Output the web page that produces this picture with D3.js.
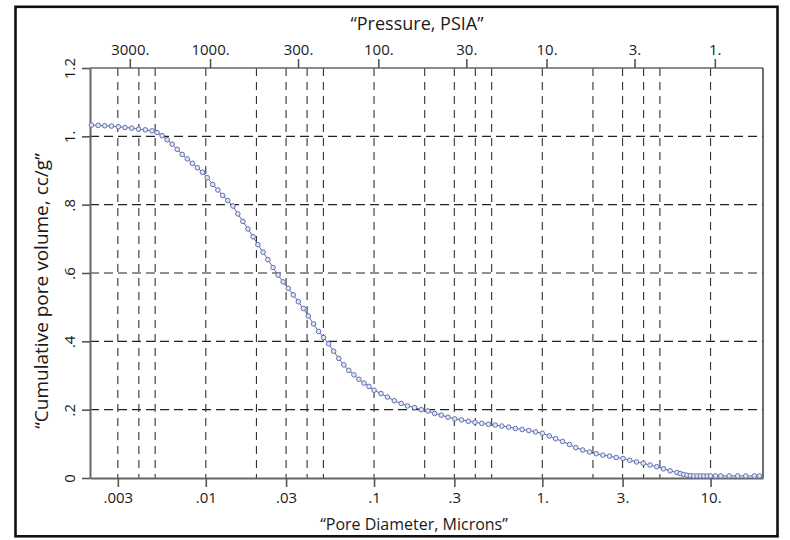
<!DOCTYPE html>
<html>
<head>
<meta charset="utf-8">
<script src="https://cdn.jsdelivr.net/npm/d3@7"></script>
<style>
  html, body { margin: 0; padding: 0; background: #fff; }
  svg { display: block; }
  text { font-family: "Open Sans", "Noto Sans", sans-serif; fill: #1a1a1a; }
</style>
</head>
<body>
<svg id="chart" width="790" height="540"></svg>
<script>
// Mercury intrusion curve: pore diameter (microns) vs cumulative pore volume (cc/g)
const diameters = [
  0.00209, 0.00229, 0.00251, 0.00275, 0.00302, 0.00331, 0.00363, 0.00398, 0.00437, 0.00479,
  0.00513, 0.00550, 0.00589, 0.00631, 0.00676, 0.00724, 0.00776, 0.00832, 0.00891, 0.00955,
  0.0102, 0.0110, 0.0118, 0.0126, 0.0135, 0.0145, 0.0155, 0.0166, 0.0178, 0.0191,
  0.0204, 0.0219, 0.0234, 0.0251, 0.0269, 0.0288, 0.0309, 0.0331, 0.0355, 0.0380,
  0.0407, 0.0437, 0.0468, 0.0501, 0.0537, 0.0575, 0.0617, 0.0661, 0.0708, 0.0759,
  0.0813, 0.0871, 0.0933, 0.100,
  0.110, 0.120, 0.132, 0.145, 0.158, 0.174, 0.191, 0.209, 0.229, 0.251,
  0.275, 0.302, 0.331, 0.363, 0.398, 0.437, 0.479, 0.525, 0.575, 0.631,
  0.692, 0.759, 0.832, 0.912, 1.00, 1.10, 1.20, 1.32, 1.45, 1.58,
  1.74, 1.91, 2.09, 2.29, 2.51, 2.75, 3.02, 3.31, 3.63, 3.98,
  4.37, 4.79, 5.25, 5.75, 6.31,
  6.61, 6.92, 7.24, 7.59, 7.94, 8.32, 8.71, 9.12, 9.55, 10.0,
  10.7, 11.5, 12.9, 14.5, 16.2, 18.2, 19.5
];
const volumes = [
  1.033, 1.032, 1.031, 1.030, 1.028, 1.026, 1.024, 1.021, 1.019, 1.016,
  1.011, 1.002, 0.990, 0.977, 0.962, 0.947, 0.934, 0.921, 0.908, 0.895,
  0.879, 0.859, 0.843, 0.827, 0.812, 0.796, 0.773, 0.751, 0.729, 0.706,
  0.683, 0.661, 0.639, 0.616, 0.594, 0.574, 0.555, 0.536, 0.516, 0.496,
  0.474, 0.451, 0.429, 0.411, 0.393, 0.371, 0.350, 0.331, 0.315, 0.302,
  0.289, 0.278, 0.268, 0.257,
  0.247, 0.237, 0.226, 0.218, 0.211, 0.206, 0.200, 0.196, 0.189, 0.184,
  0.178, 0.173, 0.170, 0.166, 0.163, 0.160, 0.157, 0.155, 0.152, 0.149,
  0.145, 0.142, 0.139, 0.135, 0.131, 0.123, 0.115, 0.107, 0.098, 0.089,
  0.082, 0.076, 0.071, 0.067, 0.064, 0.060, 0.057, 0.052, 0.047, 0.043,
  0.038, 0.033, 0.027, 0.021, 0.016,
  0.013, 0.010, 0.008, 0.007, 0.006, 0.006, 0.006, 0.006, 0.006, 0.006,
  0.006, 0.006, 0.006, 0.006, 0.006, 0.006, 0.006
];

// Axis ticks and labels
const diameterTicks = [0.003, 0.01, 0.03, 0.1, 0.3, 1, 3, 10];
const diameterLabels = [".003", ".01", ".03", ".1", ".3", "1.", "3.", "10."];
const diameterGrid = [0.003, 0.004, 0.005, 0.01, 0.02, 0.03, 0.04, 0.05,
                      0.1, 0.2, 0.3, 0.4, 0.5, 1, 2, 3, 4, 5, 10];
const pressureTicks = [3000, 1000, 300, 100, 30, 10, 3, 1];
const pressureLabels = ["3000.", "1000.", "300.", "100.", "30.", "10.", "3.", "1."];
const volumeTicks = [0, 0.2, 0.4, 0.6, 0.8, 1.0, 1.2];
const volumeLabels = ["0", ".2", ".4", ".6", ".8", "1.", "1.2"];
const volumeGrid = [0.2, 0.4, 0.6, 0.8, 1.0];

// Washburn constant linking pressure (psia) and diameter (microns)
const washburnK = 10.6;

const svg = d3.select("#chart");
const plot = { left: 90, right: 763, top: 68, bottom: 478 };

const x = d3.scaleLog().domain([0.00205, 20.5]).range([plot.left, plot.right]);
const xp = d3.scaleLog()
  .domain([washburnK / 0.00205, washburnK / 20.5])
  .range([plot.left, plot.right]);
const y = d3.scaleLinear().domain([0, 1.2]).range([plot.bottom, plot.top]);

// Outer frame
svg.append("rect")
  .attr("x", 15.5).attr("y", 6.8)
  .attr("width", 762).attr("height", 529.5)
  .attr("fill", "none").attr("stroke", "#111").attr("stroke-width", 2.6);

// Dashed grid
const grid = svg.append("g");
grid.selectAll("line.v").data(diameterGrid).join("line")
  .attr("class", "v")
  .attr("x1", d => x(d)).attr("x2", d => x(d))
  .attr("y1", plot.top).attr("y2", plot.bottom)
  .attr("stroke", "#333").attr("stroke-width", 1.1)
  .attr("stroke-dasharray", "8,6");
grid.selectAll("line.h").data(volumeGrid).join("line")
  .attr("class", "h")
  .attr("x1", plot.left).attr("x2", plot.right)
  .attr("y1", d => y(d)).attr("y2", d => y(d))
  .attr("stroke", "#222").attr("stroke-width", 1.2)
  .attr("stroke-dasharray", "9,5");

// Plot box: top and right edges
svg.append("line")
  .attr("x1", plot.left).attr("x2", plot.right)
  .attr("y1", plot.top).attr("y2", plot.top)
  .attr("stroke", "#666").attr("stroke-width", 1.6);
svg.append("line")
  .attr("x1", plot.right).attr("x2", plot.right)
  .attr("y1", plot.top).attr("y2", plot.bottom)
  .attr("stroke", "#333").attr("stroke-width", 1.4);

function styleAxis(g) {
  g.select(".domain").attr("stroke", "#666").attr("stroke-width", 2);
  g.selectAll(".tick line").attr("stroke", "#555").attr("stroke-width", 1.6);
  g.selectAll(".tick text")
    .style("font-family", '"Open Sans", "Noto Sans", sans-serif')
    .style("font-size", "15px").attr("fill", "#1a1a1a");
}

// Bottom axis: pore diameter
svg.append("g")
  .attr("transform", `translate(0,${plot.bottom})`)
  .call(d3.axisBottom(x).tickValues(diameterTicks)
    .tickFormat((d, i) => diameterLabels[i])
    .tickSizeInner(9).tickSizeOuter(0).tickPadding(5))
  .call(styleAxis);

// Top axis: pressure
svg.append("g")
  .attr("transform", `translate(0,${plot.top})`)
  .call(d3.axisTop(xp).tickValues(pressureTicks)
    .tickFormat((d, i) => pressureLabels[i])
    .tickSizeInner(9).tickSizeOuter(0).tickPadding(4))
  .call(styleAxis)
  .call(g => g.select(".domain").remove());

// Left axis: cumulative volume, labels rotated
svg.append("g")
  .attr("transform", `translate(${plot.left},0)`)
  .call(d3.axisLeft(y).tickValues(volumeTicks)
    .tickFormat((d, i) => volumeLabels[i])
    .tickSizeInner(8).tickSizeOuter(0))
  .call(styleAxis)
  .call(g => g.selectAll(".tick text")
    .attr("x", 0).attr("dy", 0)
    .attr("text-anchor", "middle")
    .attr("transform", "translate(-15,0) rotate(-90)"));

// Intrusion curve
const pts = diameters.map((d, i) => [d, volumes[i]]);
svg.append("path")
  .datum(pts)
  .attr("fill", "none")
  .attr("stroke", "#5868a6")
  .attr("stroke-width", 1)
  .attr("d", d3.line().x(d => x(d[0])).y(d => y(d[1])));
svg.append("g").selectAll("circle").data(pts).join("circle")
  .attr("cx", d => x(d[0])).attr("cy", d => y(d[1]))
  .attr("r", 2.3)
  .attr("fill", "#e2e6f3")
  .attr("stroke", "#6171b0")
  .attr("stroke-width", 1);

// Axis titles
svg.append("text")
  .attr("x", 417).attr("y", 30)
  .attr("text-anchor", "middle")
  .style("font-size", "18px")
  .text("\u201CPressure, PSIA\u201D");
svg.append("text")
  .attr("x", 414).attr("y", 530)
  .attr("text-anchor", "middle")
  .style("font-size", "16px")
  .text("\u201CPore Diameter, Microns\u201D");
svg.append("text")
  .attr("transform", "translate(48,291) rotate(-90)")
  .attr("text-anchor", "middle")
  .style("font-size", "19px")
  .text("\u201CCumulative pore volume, cc/g\u201D");
</script>
</body>
</html>
